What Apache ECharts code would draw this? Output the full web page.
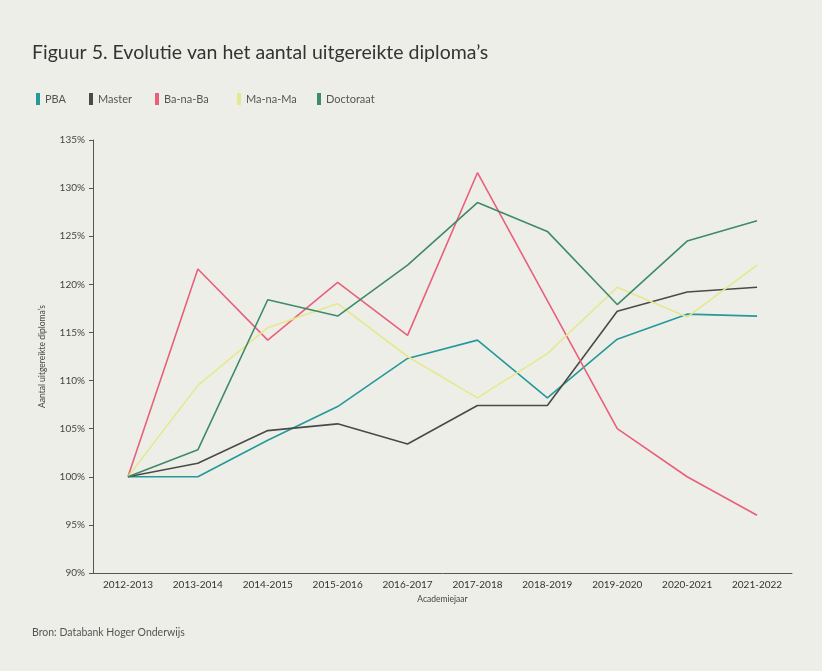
<!DOCTYPE html>
<html>
<head>
<meta charset="utf-8">
<script src="https://cdn.jsdelivr.net/npm/echarts@6/dist/echarts.min.js"></script>
<style>
html,body{margin:0;padding:0;background:#eeeee9;}
#chart{width:822px;height:671px;}
</style>
</head>
<body>
<div id="chart"></div>
<script>
const categories = ['2012-2013','2013-2014','2014-2015','2015-2016','2016-2017','2017-2018','2018-2019','2019-2020','2020-2021','2021-2022'];
const pba       = [100, 100.0, 103.8, 107.3, 112.3, 114.2, 108.2, 114.3, 116.9, 116.7];
const master    = [100, 101.4, 104.8, 105.5, 103.4, 107.4, 107.4, 117.2, 119.2, 119.7];
const banaba    = [100, 121.6, 114.2, 120.2, 114.7, 131.6, 118.3, 105.0, 100.0, 96.0];
const manama    = [100, 109.5, 115.5, 118.0, 112.5, 108.2, 112.8, 119.7, 116.6, 122.0];
const doctoraat = [100, 102.8, 118.4, 116.7, 122.0, 128.5, 125.5, 117.9, 124.5, 126.6];
const yTicks = {min: 90, max: 135, interval: 5};

const names = ['PBA','Master','Ba-na-Ba','Ma-na-Ma','Doctoraat'];
const colors = ['#24999a','#4a4a4a','#e8607a','#e4e98e','#3f8a68'];
const values = [pba, master, banaba, manama, doctoraat];
const legendLeft = [31, 84, 150, 232, 312];
const font = 'Lato, "Open Sans", sans-serif';

const chart = echarts.init(document.getElementById('chart'), null, {renderer:'canvas'});
chart.setOption({
  backgroundColor: '#eeeee9',
  animation: false,
  color: colors,
  title: {
    text: "Figuur 5. Evolutie van het aantal uitgereikte diploma’s",
    left: 27, top: 38,
    textStyle: {fontFamily: font, fontSize: 19.5, fontWeight: 'normal', color: '#333'}
  },
  legend: names.map((n, i) => ({
    left: legendLeft[i], top: 88,
    icon: 'rect', itemWidth: 4, itemHeight: 12, itemGap: 0,
    textStyle: {fontFamily: font, fontSize: 11, color: '#555'},
    data: [n]
  })),
  grid: {left: 93, right: 30, top: 140, bottom: 98, containLabel: false},
  xAxis: {
    type: 'category', data: categories, boundaryGap: true,
    name: 'Academiejaar', nameLocation: 'middle', nameGap: 22,
    nameTextStyle: {fontFamily: font, fontSize: 8.5, color: '#444'},
    axisLine: {lineStyle: {color: '#555', width: 1}},
    axisTick: {alignWithLabel: true, length: 4, lineStyle: {color: '#555'}},
    axisLabel: {fontFamily: font, fontSize: 10, color: '#333', margin: 7}
  },
  yAxis: {
    type: 'value', min: yTicks.min, max: yTicks.max, interval: yTicks.interval,
    name: 'Aantal uitgereikte diploma’s', nameLocation: 'middle', nameRotate: 90, nameGap: 46,
    nameTextStyle: {fontFamily: font, fontSize: 8.5, color: '#444'},
    axisLine: {show: true, lineStyle: {color: '#555', width: 1}},
    axisTick: {show: true, length: 4, lineStyle: {color: '#555'}},
    axisLabel: {fontFamily: font, fontSize: 10, color: '#444', margin: 8, formatter: '{value}%'},
    splitLine: {show: false}
  },
  graphic: [{
    type: 'text', left: 32, top: 627,
    style: {text: 'Bron: Databank Hoger Onderwijs', font: '10.5px ' + font, fill: '#555'}
  }],
  series: names.map((n, i) => ({
    name: n, type: 'line', data: values[i],
    symbol: 'none', smooth: false,
    lineStyle: {width: 1.6, color: colors[i]},
    itemStyle: {color: colors[i]}
  }))
});
</script>
</body>
</html>
